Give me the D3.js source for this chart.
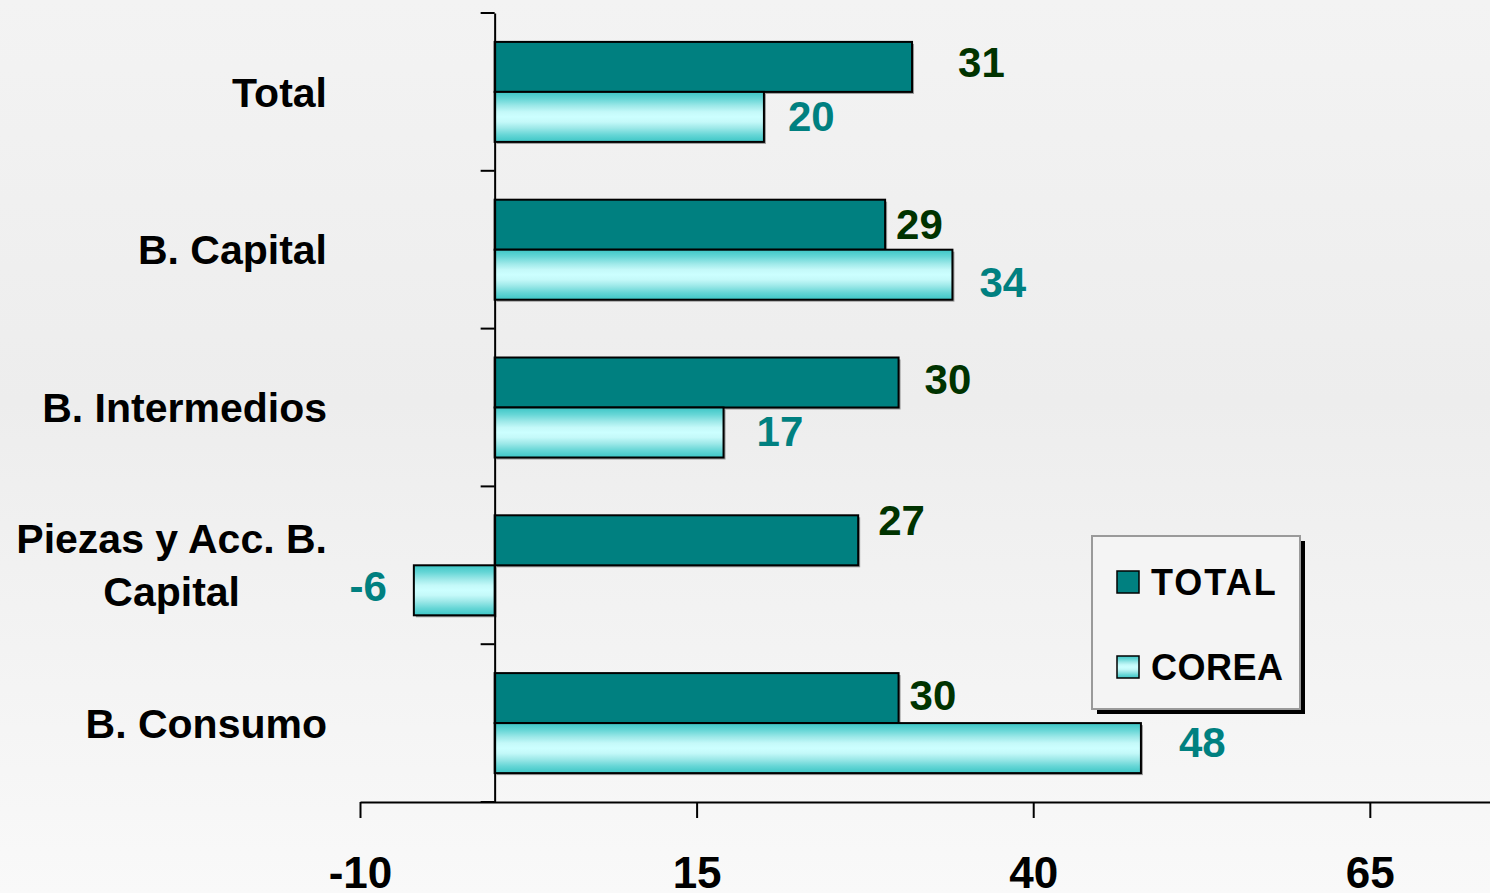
<!DOCTYPE html>
<html>
<head>
<meta charset="utf-8">
<script src="https://cdnjs.cloudflare.com/ajax/libs/d3/7.8.5/d3.min.js"></script>
<style>
  html, body { margin: 0; padding: 0; overflow: hidden; }
  svg { display: block; font-family: "Liberation Sans", Arial, sans-serif; font-weight: bold; }
</style>
</head>
<body>
<svg id="chart" width="1490" height="893"></svg>
<script>
// ---- data ----
const categories = ["Total", "B. Capital", "B. Intermedios", "Piezas y Acc. B.|Capital", "B. Consumo"];
const seriesNames = ["TOTAL", "COREA"];
const totalValues = [31, 29, 30, 27, 30];
const coreaValues = [20, 34, 17, -6, 48];
const xTickValues = [-10, 15, 40, 65];
const xDomain = [-10, 74];

// label nudges (layout only, px): [dx from bar end, dy from bar centre]
const totalLabelNudge = [[46, -5], [11, -1], [26, -4], [20, -20], [11, -3]];
const coreaLabelNudge = [[24, -1], [27, 7], [33, -2], [-27, -4], [38, -6]];

const W = 1490, H = 893;
const svg = d3.select("#chart");
const defs = svg.append("defs");

const bg = defs.append("linearGradient").attr("id", "bg").attr("x1", 0).attr("y1", 0).attr("x2", 0).attr("y2", 1);
[[0, "#f3f3f3"], [0.45, "#ededed"], [1, "#f9f9f9"]].forEach(s => bg.append("stop").attr("offset", s[0]).attr("stop-color", s[1]));

const cg = defs.append("linearGradient").attr("id", "corea").attr("x1", 0).attr("y1", 0).attr("x2", 0).attr("y2", 1);
[[0, "#3cc6c6"], [0.14, "#66d6d6"], [0.28, "#9ee9e9"], [0.4, "#c4f9f9"], [0.5, "#ccffff"], [0.6, "#c4f9f9"], [0.72, "#9ee9e9"], [0.86, "#66d6d6"], [1, "#3cc6c6"]]
  .forEach(s => cg.append("stop").attr("offset", s[0]).attr("stop-color", s[1]));

svg.append("rect").attr("width", W).attr("height", H).attr("fill", "url(#bg)");

const x = d3.scaleLinear().domain(xDomain).range([360, 1491]);
const y = d3.scaleBand().domain(categories).range([13, 802]).paddingInner(0).paddingOuter(0);
const ySub = d3.scaleBand().domain(seriesNames).range([0, y.bandwidth()]).paddingInner(0).paddingOuter(0.578);

const fills = { TOTAL: "#008080", COREA: "url(#corea)" };
const labelColors = { TOTAL: "#003300", COREA: "#008080" };
const seriesData = { TOTAL: totalValues, COREA: coreaValues };
const nudges = { TOTAL: totalLabelNudge, COREA: coreaLabelNudge };

const rows = [];
seriesNames.forEach(s => categories.forEach((c, i) => rows.push({ s, c, i, v: seriesData[s][i] })));

// shadows
svg.append("g").selectAll("rect").data(rows).join("rect")
  .attr("x", d => Math.min(x(0), x(d.v)) + 2)
  .attr("y", d => y(d.c) + ySub(d.s) + 2)
  .attr("width", d => Math.abs(x(d.v) - x(0)))
  .attr("height", ySub.bandwidth())
  .attr("fill", "#9a9a9a");

// bars
svg.append("g").selectAll("rect").data(rows).join("rect")
  .attr("x", d => Math.min(x(0), x(d.v)))
  .attr("y", d => y(d.c) + ySub(d.s))
  .attr("width", d => Math.abs(x(d.v) - x(0)))
  .attr("height", ySub.bandwidth())
  .attr("fill", d => fills[d.s])
  .attr("stroke", "#000").attr("stroke-width", 2);

// value labels
const vfs = 42;
svg.append("g").selectAll("text").data(rows).join("text")
  .attr("x", d => x(d.v) + nudges[d.s][d.i][0])
  .attr("y", d => y(d.c) + ySub(d.s) + ySub.bandwidth() / 2 + nudges[d.s][d.i][1] + 0.358 * vfs)
  .attr("text-anchor", d => d.v < 0 ? "end" : "start")
  .attr("font-size", vfs)
  .attr("fill", d => labelColors[d.s])
  .text(d => d.v);

// y axis
const yAxis = d3.axisLeft(y).tickValues([]).tickSizeOuter(0);
const yg = svg.append("g").attr("transform", `translate(${x(0)},0)`).call(yAxis);
yg.select(".domain").attr("stroke", "#000").attr("stroke-width", 2);
const bounds = categories.map(c => y(c)).concat([y.range()[1]]);
svg.append("g").selectAll("line").data(bounds).join("line")
  .attr("x1", x(0) - 14).attr("x2", x(0))
  .attr("y1", d => d).attr("y2", d => d)
  .attr("stroke", "#000").attr("stroke-width", 2);

// x axis
const xAxis = d3.axisBottom(x).tickValues(xTickValues).tickSize(16).tickSizeOuter(0)
  .tickFormat(d => String(d));
const xg = svg.append("g").attr("transform", `translate(0,802)`).call(xAxis);
xg.select(".domain").attr("stroke", "#000").attr("stroke-width", 2);
xg.selectAll(".tick line").attr("stroke", "#000").attr("stroke-width", 2);
xg.selectAll(".tick text").attr("font-size", 44).attr("font-family", "Liberation Sans, Arial, sans-serif")
  .attr("font-weight", "bold").attr("fill", "#000").attr("dy", 0).attr("y", 86);

// category labels
const cfs = 41;
const cg2 = svg.append("g");
categories.forEach(c => {
  const lines = c.split("|");
  const t = cg2.append("text").attr("font-size", cfs).attr("fill", "#000");
  const cy = y(c) + y.bandwidth() / 2;
  const lh = 53;
  lines.forEach((ln, k) => {
    t.append("tspan").text(ln)
      .attr("y", cy + (k - (lines.length - 1) / 2) * lh + 0.358 * cfs);
  });
  const widths = [];
  t.selectAll("tspan").each(function () { widths.push(this.getComputedTextLength()); });
  const maxW = d3.max(widths);
  if (lines.length > 1) {
    t.attr("text-anchor", "middle").selectAll("tspan").attr("x", 327 - maxW / 2);
  } else {
    t.attr("text-anchor", "end").selectAll("tspan").attr("x", 327);
  }
});

// legend
const lg = svg.append("g").attr("transform", "translate(1092,536)");
lg.append("rect").attr("x", 5).attr("y", 5).attr("width", 208).attr("height", 173).attr("fill", "#000");
lg.append("rect").attr("width", 208).attr("height", 173).attr("fill", "#f4f4f4").attr("stroke", "#9a9a9a").attr("stroke-width", 2);
seriesNames.forEach((s, k) => {
  const yy = 35 + k * 85;
  lg.append("rect").attr("x", 25).attr("y", yy).attr("width", 22).attr("height", 22)
    .attr("fill", fills[s]).attr("stroke", "#000").attr("stroke-width", 1.5);
  lg.append("text").attr("x", 59).attr("y", yy + 24).attr("font-size", 36).attr("fill", "#000")
    .attr("letter-spacing", s === "TOTAL" ? 2 : 0.5).text(s);
});
</script>
</body>
</html>
